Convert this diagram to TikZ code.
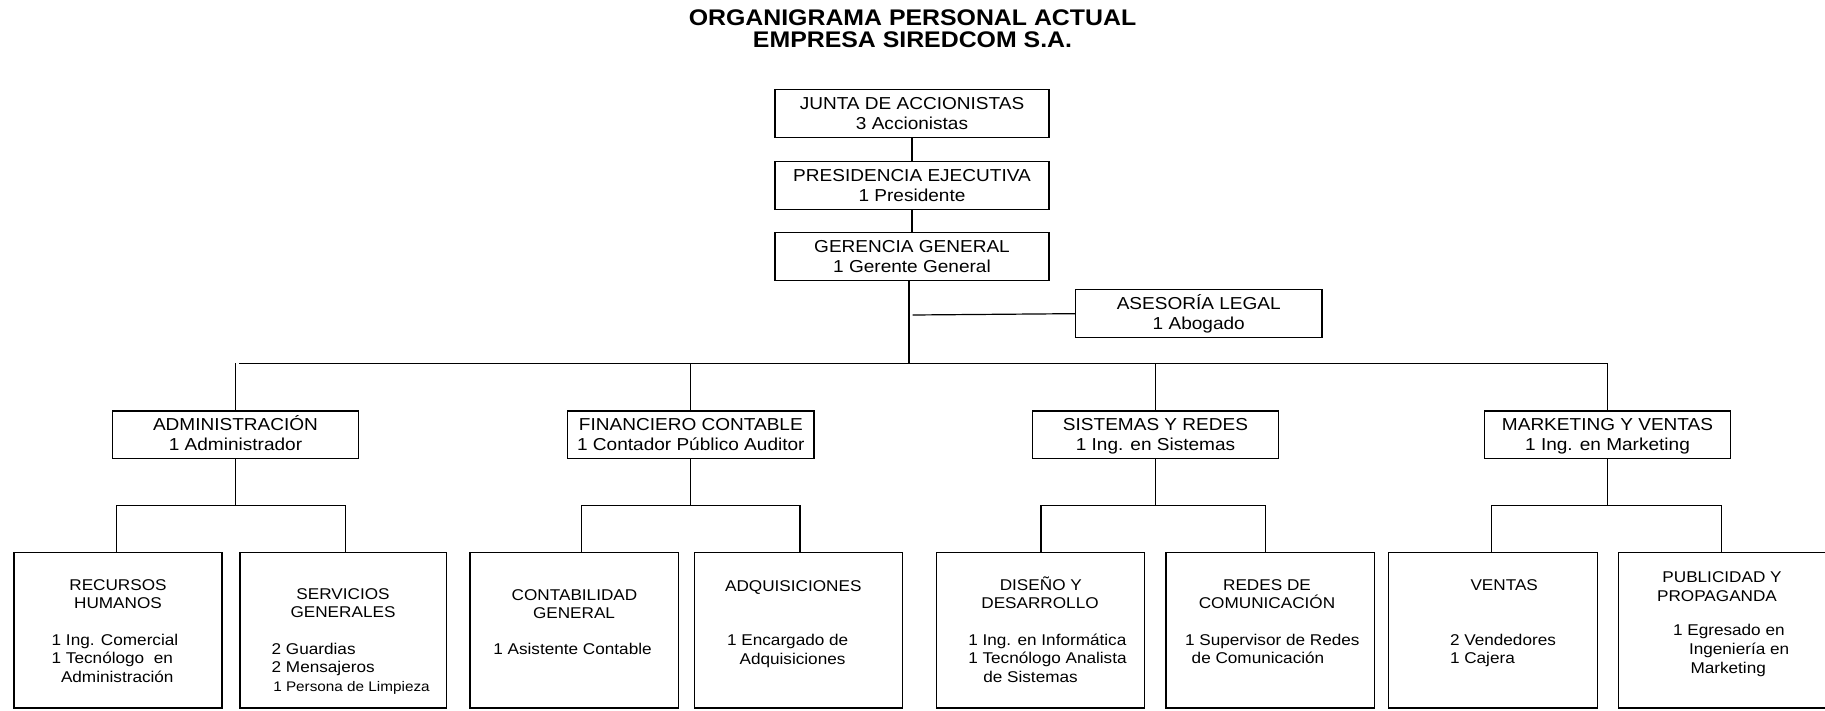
\documentclass[tikz,border=0pt]{standalone}
\usepackage{fontspec}
\setmainfont[FakeStretch=1.1]{Liberation Sans}
\newcommand\midfont{\fontsize{17.3}{20}\selectfont}
\newcommand\botfont{\fontsize{15.6}{18}\selectfont}
\newcommand\smallfont{\fontsize{13.9}{16}\selectfont}
\newcommand\titlefont{\bfseries\fontsize{22.6}{22}\selectfont}
\newcommand\mkbox[6]{\node[box, minimum width={#4-#2}, minimum height={#5-#3}] (#1) at ({(#2+#4)/2},{(#3+#5)/2}) {#6};}
\newcommand\twol[2]{\rule{0pt}{17pt}#1\\#2\rule[-5pt]{0pt}{5pt}}
\begin{document}
\begin{tikzpicture}[x=1pt,y=-1pt,
  box/.style={draw, line width=1.2pt, inner sep=0pt, outer sep=0pt, align=center, font=\midfont},
  ln/.style={line width=1.2pt},
  t/.style={inner sep=0pt, outer sep=0pt, font=\botfont, anchor=base},
  tl/.style={inner sep=0pt, outer sep=0pt, font=\botfont, anchor=base west}]
\fill[white] (0,0) rectangle (1825,710);
\useasboundingbox (0,0) rectangle (1825,710);

% title
\node[t, font=\titlefont] (title1) at (912.5,25.6) {ORGANIGRAMA PERSONAL ACTUAL};
\node[t, font=\titlefont] (title2) at (912.5,47.2) {EMPRESA SIREDCOM S.A.};

% top boxes
\mkbox{junta}{775}{89.6}{1049}{137.3}{\twol{JUNTA DE ACCIONISTAS}{3 Accionistas}}
\mkbox{pres}{775}{161.8}{1049}{209.5}{\twol{PRESIDENCIA EJECUTIVA}{1 Presidente}}
\mkbox{ger}{775}{232.8}{1049}{280.5}{\twol{GERENCIA GENERAL}{1 Gerente General}}
\mkbox{ases}{1075.5}{289.8}{1322}{337.5}{\twol{ASESORÍA LEGAL}{1 Abogado}}

% middle boxes
\mkbox{adm}{112.3}{411}{358.7}{458.3}{\twol{ADMINISTRACIÓN}{1 Administrador}}
\mkbox{fin}{567.7}{411}{814}{458.3}{\twol{FINANCIERO CONTABLE}{1 Contador Público Auditor}}
\mkbox{sis}{1032.3}{411}{1278.7}{458.3}{\twol{SISTEMAS Y REDES}{1 Ing. en Sistemas}}
\mkbox{mkt}{1484.3}{411}{1730.7}{458.3}{\twol{MARKETING Y VENTAS}{1 Ing. en Marketing}}

% bottom boxes
\mkbox{rrhh}{14}{552.5}{222}{708}{}
\mkbox{serv}{240}{552.5}{446.7}{708}{}
\mkbox{cont}{470}{552.5}{678.3}{708}{}
\mkbox{adq}{694.3}{552.5}{902.7}{708}{}
\mkbox{dis}{936.7}{552.5}{1144.3}{708}{}
\mkbox{red}{1166}{552.5}{1374.3}{708}{}
\mkbox{ven}{1388.3}{552.5}{1597.3}{708}{}
\mkbox{pub}{1618.3}{552.5}{1826}{708}{}

% bottom texts
\node[t] (rrhhA) at (118,590) {RECURSOS};
\node[t] (rrhhB) at (118,608) {HUMANOS};
\node[tl] (rrhhC) at (51.7,645) {1 Ing. Comercial};
\node[tl] (rrhhD) at (51.7,663) {1 Tecnólogo\ \ en};
\node[tl] (rrhhE) at (61,682) {Administración};

\node[t] (servA) at (343,599.5) {SERVICIOS};
\node[t] (servB) at (343,617.5) {GENERALES};
\node[tl] (servC) at (271.7,654) {2 Guardias};
\node[tl] (servD) at (271.7,672) {2 Mensajeros};
\node[tl, font=\smallfont] (servE) at (273.3,691) {1 Persona de Limpieza};

\node[t] (contA) at (574.5,600.5) {CONTABILIDAD};
\node[t] (contB) at (574,618.5) {GENERAL};
\node[t] (contC) at (572.5,654.5) {1 Asistente Contable};

\node[t] (adqA) at (793.3,591) {ADQUISICIONES};
\node[t] (adqB) at (787.7,645) {1 Encargado de};
\node[t] (adqC) at (792.5,664) {Adquisiciones};

\node[t] (disA) at (1040.8,590) {DISEÑO Y};
\node[t] (disB) at (1040,608) {DESARROLLO};
\node[tl] (disC) at (968.3,645) {1 Ing. en Informática};
\node[tl] (disD) at (968.3,663) {1 Tecnólogo Analista};
\node[tl] (disE) at (983.3,682) {de Sistemas};

\node[t] (redA) at (1267,590) {REDES DE};
\node[t] (redB) at (1267,608) {COMUNICACIÓN};
\node[tl] (redC) at (1185,645) {1 Supervisor de Redes};
\node[tl] (redD) at (1191.7,663) {de Comunicación};

\node[t] (venA) at (1504.2,590) {VENTAS};
\node[tl] (venB) at (1450,645) {2 Vendedores};
\node[tl] (venC) at (1450,663) {1 Cajera};

\node[t] (pubA) at (1722,582) {PUBLICIDAD Y};
\node[t] (pubB) at (1717,601) {PROPAGANDA};
\node[tl] (pubC) at (1673,635.5) {1 Egresado en};
\node[tl] (pubD) at (1689,654) {Ingeniería en};
\node[tl] (pubE) at (1690.5,673) {Marketing};

% connectors top
\draw[ln] (junta) -- (pres);
\draw[ln] (pres) -- (ger);
\coordinate (busG) at (909,363.3);
\draw[ln] ([xshift=-3]ger.south) -- (busG);
\coordinate (asJ) at (912.5,315);
\draw[ln] (asJ) -- (ases.west);

% main bus
\coordinate (busL) at (239.3,363.3);
\draw[ln] (busL) -- (mkt.north |- busL) -- (mkt.north);
\draw[ln] (adm.north) -- (adm.north |- busL);
\draw[ln] (fin.north) -- (fin.north |- busL);
\draw[ln] (sis.north) -- (sis.north |- busL);

% sub buses
\coordinate (aL) at (116.7,505.3);
\coordinate (aR) at (345.7,505.3);
\draw[ln] (adm.south) -- (adm.south |- aL);
\draw[ln] (aL |- rrhh.north) -- (aL) -- (aR) -- (aR |- serv.north);

\coordinate (fL) at (581.7,505.3);
\coordinate (fR) at (800,505.3);
\draw[ln] (fin.south) -- (fin.south |- fL);
\draw[ln] (fL |- cont.north) -- (fL) -- (fR) -- (fR |- adq.north);

\coordinate (sL) at (1041,505.3);
\coordinate (sR) at (1265.3,505.3);
\draw[ln] (sis.south) -- (sis.south |- sL);
\draw[ln] (sL |- dis.north) -- (sL) -- (sR) -- (sR |- red.north);

\coordinate (mL) at (1491.7,505.3);
\coordinate (mR) at (1721.7,505.3);
\draw[ln] (mkt.south) -- (mkt.south |- mL);
\draw[ln] (mL |- ven.north) -- (mL) -- (mR) -- (mR |- pub.north);
\end{tikzpicture}
\end{document}
